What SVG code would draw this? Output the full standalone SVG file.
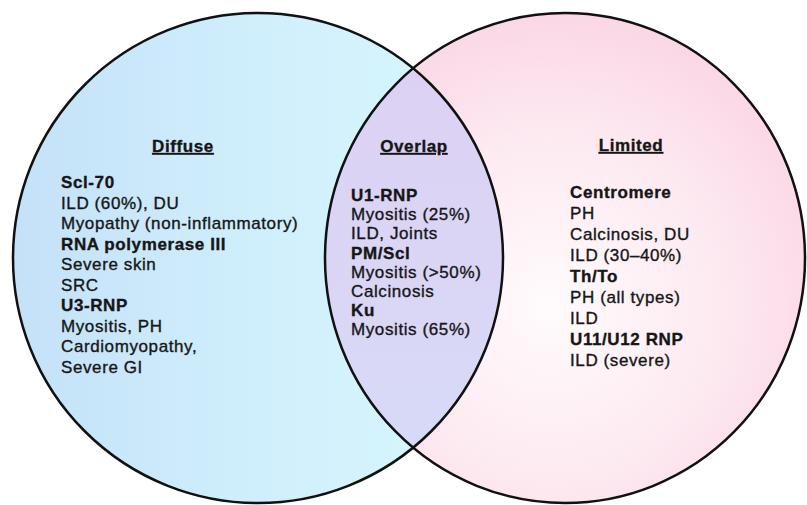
<svg xmlns="http://www.w3.org/2000/svg" width="807" height="505" viewBox="0 0 807 505">
<defs>
<linearGradient id="gL" x1="0" y1="0" x2="1" y2="0">
<stop offset="0" stop-color="#c4e1f8"/>
<stop offset="0.5" stop-color="#d0effc"/>
<stop offset="1" stop-color="#d8f8fd"/>
</linearGradient>
<radialGradient id="gR" cx="0.47" cy="0.6" r="0.6">
<stop offset="0" stop-color="#fffbfd"/>
<stop offset="0.55" stop-color="#fdebf2"/>
<stop offset="1" stop-color="#fbd7e5"/>
</radialGradient>
<linearGradient id="gO" x1="0" y1="0" x2="0" y2="1">
<stop offset="0" stop-color="#ddd0f3"/>
<stop offset="0.6" stop-color="#dad6f6"/>
<stop offset="1" stop-color="#d5dcf8"/>
</linearGradient>
<clipPath id="clipL"><circle cx="258" cy="258" r="245"/></clipPath>
<style>
text{font-family:"Liberation Sans",Arial,sans-serif;font-size:17px;letter-spacing:0.6px;fill:#161616;stroke:#161616;stroke-width:0.35px}
.b{font-weight:bold}
.h{font-weight:bold;text-decoration:underline;text-anchor:middle}
.c{stroke:#111;stroke-width:2.5;fill:none}
</style>
</defs>
<g id="shapes">
<circle cx="258" cy="258" r="245" fill="url(#gL)"/>
<ellipse cx="565" cy="258" rx="240" ry="245" fill="url(#gR)"/>
<ellipse cx="565" cy="258" rx="240" ry="245" fill="url(#gO)" clip-path="url(#clipL)"/>
<circle class="c" cx="258" cy="258" r="245"/>
<ellipse class="c" cx="565" cy="258" rx="240" ry="245"/>
</g>
<g id="diffuse">
<text class="h" x="183" y="152">Diffuse</text>
<text class="b" x="61" y="188">Scl-70</text>
<text x="61" y="208.5">ILD (60%), DU</text>
<text x="61" y="229">Myopathy (non-inflammatory)</text>
<text class="b" x="61" y="249.5">RNA polymerase III</text>
<text x="61" y="270">Severe skin</text>
<text x="61" y="290.5">SRC</text>
<text class="b" x="61" y="311">U3-RNP</text>
<text x="61" y="331.5">Myositis, PH</text>
<text x="61" y="352">Cardiomyopathy,</text>
<text x="61" y="372.5">Severe GI</text>
</g>
<g id="overlap">
<text class="h" x="414" y="152">Overlap</text>
<text class="b" x="351" y="201">U1-RNP</text>
<text x="351" y="220.2">Myositis (25%)</text>
<text x="351" y="239.4">ILD, Joints</text>
<text class="b" x="351" y="258.6">PM/Scl</text>
<text x="351" y="277.8">Myositis (&gt;50%)</text>
<text x="351" y="297">Calcinosis</text>
<text class="b" x="351" y="316.2">Ku</text>
<text x="351" y="335.4">Myositis (65%)</text>
</g>
<g id="limited">
<text class="h" x="631" y="151">Limited</text>
<text class="b" x="570" y="198">Centromere</text>
<text x="570" y="219">PH</text>
<text x="570" y="240">Calcinosis, DU</text>
<text x="570" y="261">ILD (30–40%)</text>
<text class="b" x="570" y="282">Th/To</text>
<text x="570" y="303">PH (all types)</text>
<text x="570" y="324">ILD</text>
<text class="b" x="570" y="345">U11/U12 RNP</text>
<text x="570" y="366">ILD (severe)</text>
</g>
<g id="connectors"/>
</svg>
